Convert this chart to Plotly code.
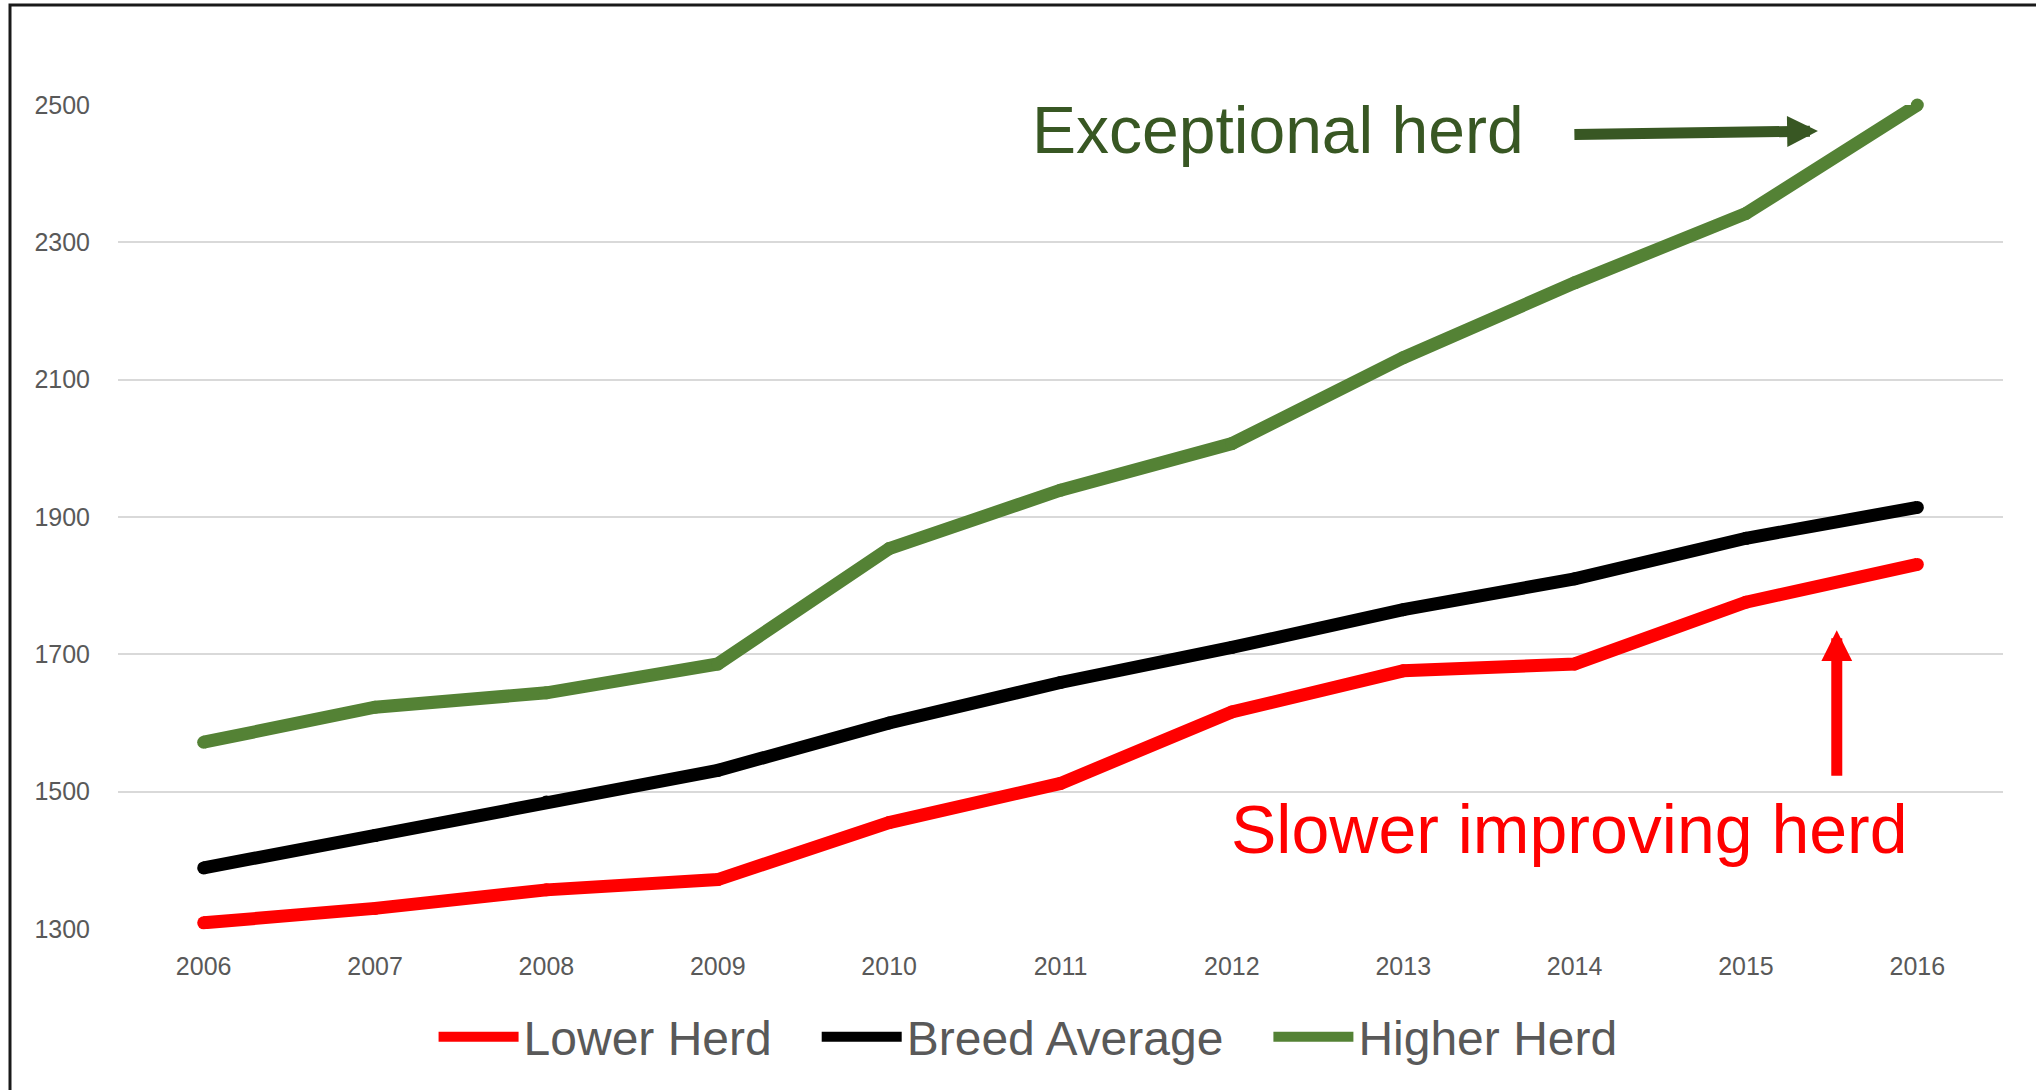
import plotly.graph_objects as go

years = [2006, 2007, 2008, 2009, 2010, 2011, 2012, 2013, 2014, 2015, 2016]
lower_herd = [1309, 1330, 1357, 1372, 1455, 1512, 1616, 1676, 1686, 1776, 1831]
breed_average = [1389, 1436, 1485, 1531, 1600, 1659, 1710, 1765, 1810, 1869, 1914]
higher_herd = [1572, 1623, 1644, 1686, 1854, 1939, 2007, 2132, 2241, 2342, 2500]
y_ticks = [1300, 1500, 1700, 1900, 2100, 2300, 2500]

series = [
    ("Lower Herd", lower_herd, "#FF0000"),
    ("Breed Average", breed_average, "#000000"),
    ("Higher Herd", higher_herd, "#548235"),
]

fig = go.Figure()
for name, vals, col in series:
    fig.add_trace(go.Scatter(
        x=years, y=vals, name=name, mode="lines+markers",
        line=dict(color=col, width=13),
        marker=dict(color=col, size=13, line=dict(width=0)),
        cliponaxis=False, showlegend=False,
    ))

# legend-only entries (line symbol without the round-join markers)
pad = "\u00a0" * 3
for i, (name, vals, col) in enumerate(series):
    label = name + (pad if i < len(series) - 1 else "")
    fig.add_trace(go.Scatter(
        x=[None], y=[None], name=label, mode="lines",
        line=dict(color=col, width=13), showlegend=True,
    ))

# annotations (text + arrows)
fig.add_annotation(x=2010.82, y=2463, xref="x", yref="y", text="Exceptional herd",
                   showarrow=False, xanchor="left", yanchor="middle",
                   font=dict(family="Liberation Sans, Arial, sans-serif", size=66, color="#385723"))
fig.add_annotation(x=2015.42, y=2462, ax=2013.99, ay=2457, xref="x", yref="y", axref="x", ayref="y",
                   text="", showarrow=True, arrowhead=2, arrowsize=0.56, arrowwidth=11,
                   arrowcolor="#385723", standoff=0)
fig.add_annotation(x=2015.53, y=1735, ax=2015.53, ay=1521, xref="x", yref="y", axref="x", ayref="y",
                   text="", showarrow=True, arrowhead=2, arrowsize=0.56, arrowwidth=11,
                   arrowcolor="#FF0000", standoff=0)
fig.add_annotation(x=2013.97, y=1445, xref="x", yref="y", text="Slower improving herd",
                   showarrow=False, xanchor="center", yanchor="middle",
                   font=dict(family="Liberation Sans, Arial, sans-serif", size=68, color="#FF0000"))

# outer border of the chart box
fig.add_shape(type="rect", xref="paper", yref="paper",
              x0=(10 - 118) / 1885, x1=(2060 - 118) / 1885,
              y0=(929 - 1110) / 824, y1=(929 - 5) / 824,
              line=dict(color="#1a1a1a", width=3), fillcolor="rgba(0,0,0,0)", layer="above")

fig.update_layout(
    width=2036, height=1090,
    margin=dict(l=118, r=33, t=105, b=161),
    plot_bgcolor="white", paper_bgcolor="white",
    font=dict(family="Liberation Sans, Arial, sans-serif", color="#595959"),
    showlegend=True,
    legend=dict(orientation="h", x=0.4828, xanchor="center", y=-0.131, yanchor="middle",
                font=dict(size=48, color="#595959"), itemwidth=80, tracegroupgap=0),
    xaxis=dict(range=[2005.5, 2016.5], tickmode="array", tickvals=years,
               ticktext=[str(y) for y in years], showgrid=False, zeroline=False,
               showline=False, ticks="", tickfont=dict(size=25, color="#595959"),
               ticklabelstandoff=20),
    yaxis=dict(range=[1300, 2500], tickmode="array", tickvals=y_ticks,
               showgrid=True, gridcolor="#d9d9d9", gridwidth=2, zeroline=False,
               showline=False, ticks="", tickfont=dict(size=25, color="#595959"),
               ticklabelstandoff=27),
)

fig.write_html("out.html", config={"displayModeBar": False},
               post_script="document.body.style.margin='0';")
